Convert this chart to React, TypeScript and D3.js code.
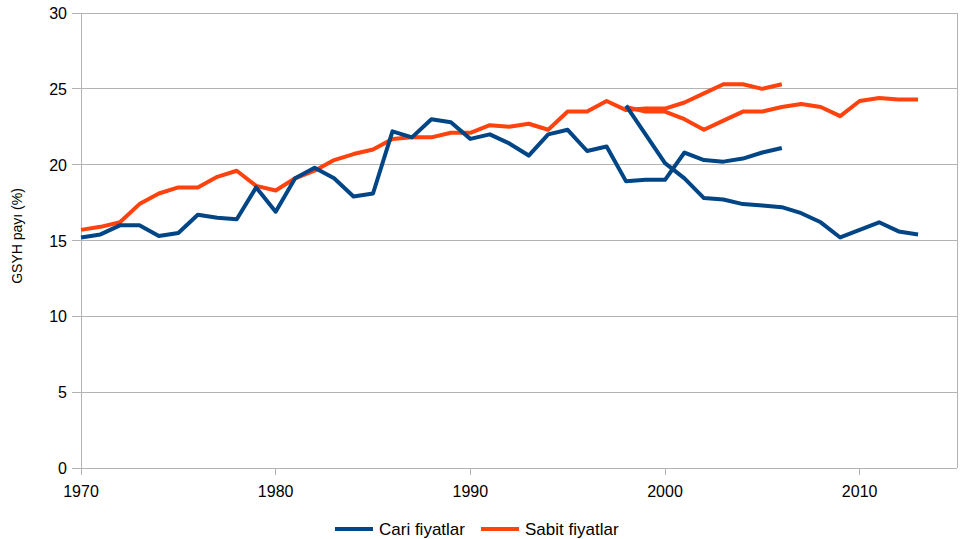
import React, { useEffect, useRef } from "react";
import * as d3 from "d3";

// Cari fiyatlar (current prices), old series 1970-2006 and new series 1998-2013
const cariOldStart = 1970;
const cariOld = [
  15.2, 15.4, 16.0, 16.0, 15.3, 15.5, 16.7, 16.5, 16.4, 18.5,
  16.9, 19.1, 19.8, 19.1, 17.9, 18.1, 22.2, 21.8, 23.0, 22.8,
  21.7, 22.0, 21.4, 20.6, 22.0, 22.3, 20.9, 21.2, 18.9, 19.0,
  19.0, 20.8, 20.3, 20.2, 20.4, 20.8, 21.1,
];
const cariNewStart = 1998;
const cariNew = [
  23.9, 22.0, 20.1, 19.1, 17.8, 17.7, 17.4, 17.3, 17.2, 16.8,
  16.2, 15.2, 15.7, 16.2, 15.6, 15.4,
];

// Sabit fiyatlar (constant prices)
const sabitOldStart = 1970;
const sabitOld = [
  15.7, 15.9, 16.2, 17.4, 18.1, 18.5, 18.5, 19.2, 19.6, 18.6,
  18.3, 19.1, 19.6, 20.3, 20.7, 21.0, 21.7, 21.8, 21.8, 22.1,
  22.1, 22.6, 22.5, 22.7, 22.3, 23.5, 23.5, 24.2, 23.6, 23.7,
  23.7, 24.1, 24.7, 25.3, 25.3, 25.0, 25.3,
];
const sabitNewStart = 1998;
const sabitNew = [
  23.8, 23.5, 23.5, 23.0, 22.3, 22.9, 23.5, 23.5, 23.8, 24.0,
  23.8, 23.2, 24.2, 24.4, 24.3, 24.3,
];

const xTicks = [1970, 1980, 1990, 2000, 2010];
const yTicks = [0, 5, 10, 15, 20, 25, 30];
const legendLabels = ["Cari fiyatlar", "Sabit fiyatlar"];

const BLUE = "#004586";
const RED = "#ff420e";
const GRID = "#b3b3b3";
const FONT = "'Liberation Sans', Arial, sans-serif";

export default function App() {
  const ref = useRef<SVGSVGElement>(null);

  useEffect(() => {
    const width = 962;
    const height = 539;
    const margin = { top: 13, left: 81, bottom: 71, right: 5 };
    const iwidth = width - margin.left - margin.right;
    const iheight = height - margin.top - margin.bottom;

    const svg = d3.select(ref.current);
    svg.selectAll("*").remove();

    const g = svg
      .append("g")
      .attr("transform", `translate(${margin.left},${margin.top})`);

    const x = d3.scaleLinear().domain([1970, 2015]).range([0, iwidth]);
    const y = d3.scaleLinear().domain([0, 30]).range([iheight, 0]);

    // grid
    g.selectAll("line.grid")
      .data(yTicks)
      .enter()
      .append("line")
      .attr("class", "grid")
      .attr("x1", -9)
      .attr("x2", iwidth)
      .attr("y1", d => y(d))
      .attr("y2", d => y(d))
      .attr("stroke", GRID)
      .attr("stroke-width", 1)
      .attr("shape-rendering", "crispEdges");

    // y axis line + right border
    g.append("line")
      .attr("x1", 0).attr("x2", 0)
      .attr("y1", 0).attr("y2", iheight)
      .attr("stroke", GRID)
      .attr("shape-rendering", "crispEdges");
    g.append("line")
      .attr("x1", iwidth).attr("x2", iwidth)
      .attr("y1", 0).attr("y2", iheight)
      .attr("stroke", GRID)
      .attr("shape-rendering", "crispEdges");

    // x ticks
    g.selectAll("line.xtick")
      .data(xTicks)
      .enter()
      .append("line")
      .attr("class", "xtick")
      .attr("x1", d => x(d))
      .attr("x2", d => x(d))
      .attr("y1", iheight)
      .attr("y2", iheight + 7)
      .attr("stroke", GRID)
      .attr("shape-rendering", "crispEdges");

    g.selectAll("text.xlab")
      .data(xTicks)
      .enter()
      .append("text")
      .attr("class", "xlab")
      .attr("x", d => x(d))
      .attr("y", iheight + 29)
      .attr("text-anchor", "middle")
      .attr("font-family", FONT)
      .attr("font-size", 16)
      .attr("fill", "#000")
      .text(d => d);

    g.selectAll("text.ylab")
      .data(yTicks)
      .enter()
      .append("text")
      .attr("class", "ylab")
      .attr("x", -14)
      .attr("y", d => y(d) + 6)
      .attr("text-anchor", "end")
      .attr("font-family", FONT)
      .attr("font-size", 16)
      .attr("fill", "#000")
      .text(d => d);

    svg
      .append("text")
      .attr("transform", `translate(22,236) rotate(-90)`)
      .attr("text-anchor", "middle")
      .attr("font-family", FONT)
      .attr("font-size", 14)
      .attr("fill", "#000")
      .text("GSYH payı (%)");

    const drawSeries = (vals: number[], start: number, color: string) => {
      const ln = d3
        .line<number>()
        .x((_, i) => x(start + i))
        .y(d => y(d));
      g.append("path")
        .datum(vals)
        .attr("d", ln)
        .attr("fill", "none")
        .attr("stroke", color)
        .attr("stroke-width", 4)
        .attr("stroke-linejoin", "round");
    };

    drawSeries(sabitOld, sabitOldStart, RED);
    drawSeries(sabitNew, sabitNewStart, RED);
    drawSeries(cariOld, cariOldStart, BLUE);
    drawSeries(cariNew, cariNewStart, BLUE);

    // legend
    const legend = svg.append("g").attr("transform", "translate(335,529)");
    const items = [
      { label: legendLabels[0], color: BLUE, dx: 0 },
      { label: legendLabels[1], color: RED, dx: 146 },
    ];
    items.forEach(it => {
      legend
        .append("line")
        .attr("x1", it.dx)
        .attr("x2", it.dx + 38)
        .attr("y1", 0)
        .attr("y2", 0)
        .attr("stroke", it.color)
        .attr("stroke-width", 4);
      legend
        .append("text")
        .attr("x", it.dx + 44)
        .attr("y", 6)
        .attr("font-family", FONT)
        .attr("font-size", 17)
        .attr("fill", "#000")
        .text(it.label);
    });
  }, []);

  return (
    <svg
      ref={ref}
      width={962}
      height={539}
      style={{ position: "absolute", left: 0, top: 0, background: "#fff" }}
    />
  );
}
